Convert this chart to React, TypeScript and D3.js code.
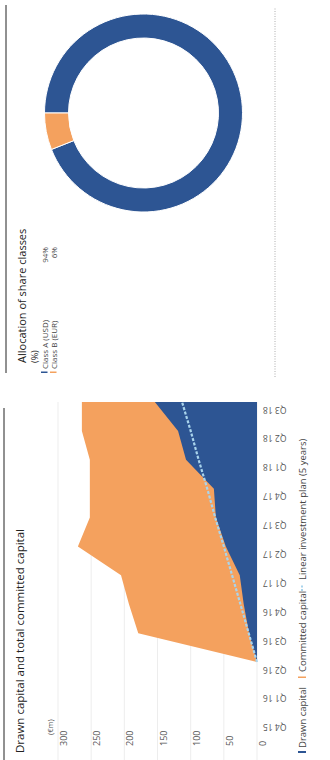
import React from "react";
import * as d3 from "d3";

const quarters = ["Q4 15","Q1 16","Q2 16","Q3 16","Q4 16","Q1 17","Q2 17","Q3 17","Q4 17","Q1 18","Q2 18","Q3 18"];
const dataQuarters = ["Q2 16","Q3 16","Q4 16","Q1 17","Q2 17","Q3 17","Q4 17","Q1 18","Q2 18","Q3 18"];
const committedCapital = [0, 179, 193, 205, 270, 252, 252, 252, 264, 264];
const drawnCapital = [0, 12, 20, 26, 47, 62, 65, 107, 119, 154];
const linearPlan = [0, 12.5, 25, 37.5, 50, 63, 75, 88, 100, 113];
const yTicks = [0, 50, 100, 150, 200, 250, 300];

const shareClasses = ["Class A (USD)", "Class B (EUR)"];
const shareValues = [94, 6];

const BLUE = "#2d5593";
const ORANGE = "#f4a15e";
const LIGHT = "#a9d4ec";
const FONT = "'Open Sans', 'Noto Sans', sans-serif";

export default function App() {
  const W = 760, H = 330;
  const x = d3.scalePoint<string>().domain(quarters).range([40.2, 358]);
  const y = d3.scaleLinear().domain([0, 300]).range([257, 58]);

  const committedArea = d3.area<number>()
    .x((_, i) => x(dataQuarters[i])!)
    .y0(y(0)).y1(d => y(d))(committedCapital)!;
  const drawnArea = d3.area<number>()
    .x((_, i) => x(dataQuarters[i])!)
    .y0(y(0)).y1(d => y(d))(drawnCapital)!;
  const planLine = d3.line<number>()
    .x((_, i) => x(dataQuarters[i])!)
    .y(d => y(d))(linearPlan)!;

  const pie = d3.pie<number>().sort(null)(shareValues);
  const arc = d3.arc<d3.PieArcDatum<number>>().innerRadius(75).outerRadius(99);
  const pieColors = [BLUE, ORANGE];

  return (
    <svg width={330} height={760} style={{ position: "absolute", left: 0, top: 0, background: "#fff" }}>
      <g transform={`translate(0,${W}) rotate(-90)`} fontFamily={FONT}>
        {/* Left panel */}
        <line x1={0} x2={352} y1={4} y2={4} stroke="#222" strokeWidth={1} />
        <text x={7} y={24} fontSize={11.5} fill="#222">Drawn capital and total committed capital</text>
        {yTicks.map(t => (
          <line key={"g" + t} x1={0} x2={358} y1={y(t)} y2={y(t)} stroke="#e8e8e8" strokeWidth={0.8} />
        ))}
        <text x={25} y={y(300) - 5} fontSize={7.5} fill="#555">(€m)</text>
        {yTicks.map(t => (
          <text key={"yl" + t} x={14} y={y(t) + 9} fontSize={9} fill="#555">{t}</text>
        ))}
        <path d={committedArea} fill={ORANGE} />
        <path d={drawnArea} fill={BLUE} />
        <path d={planLine} fill="none" stroke={LIGHT} strokeWidth={2.2} strokeDasharray="3 1.6" />
        {quarters.map(q => (
          <text key={q} transform={`translate(${x(q)! - 4.5},${263}) rotate(-90)`} textAnchor="end" fontSize={8.5} fill="#555">{q}</text>
        ))}
        {/* legend */}
        <rect x={7} y={298} width={2} height={8} fill={BLUE} />
        <text x={12} y={306} fontSize={9.5} fill="#444">Drawn capital</text>
        <rect x={82} y={298} width={1.5} height={8} fill={ORANGE} />
        <text x={88} y={306} fontSize={9.5} fill="#444">Committed capital</text>
        <line x1={169} x2={176} y1={302} y2={302} stroke={LIGHT} strokeWidth={2} strokeDasharray="2 1.5" />
        <text x={180} y={306} fontSize={9.5} fill="#444">Linear investment plan (5 years)</text>

        {/* Right panel */}
        <line x1={387} x2={755} y1={6} y2={6} stroke="#222" strokeWidth={1} />
        <text x={397} y={26} fontSize={11} fill="#222">Allocation of share classes</text>
        <text x={397} y={38} fontSize={9} fill="#222">(%)</text>
        {shareClasses.map((c, i) => (
          <g key={c}>
            <rect x={387} y={41 + i * 9} width={1.5} height={6.5} fill={pieColors[i]} />
            <text x={391} y={47.5 + i * 9} fontSize={8} fill="#444">{c}</text>
            <text x={513} y={47.5 + i * 9} fontSize={8} fill="#444" textAnchor="end">{shareValues[i]}%</text>
          </g>
        ))}
        <g transform="translate(647,143.5)">
          {pie.map((p, i) => (
            <path key={i} d={arc(p)!} fill={pieColors[i]} stroke="#fff" strokeWidth={1} />
          ))}
        </g>
        <line x1={383} x2={753} y1={275} y2={275} stroke="#999" strokeWidth={0.8} strokeDasharray="1 1.5" />
      </g>
    </svg>
  );
}
